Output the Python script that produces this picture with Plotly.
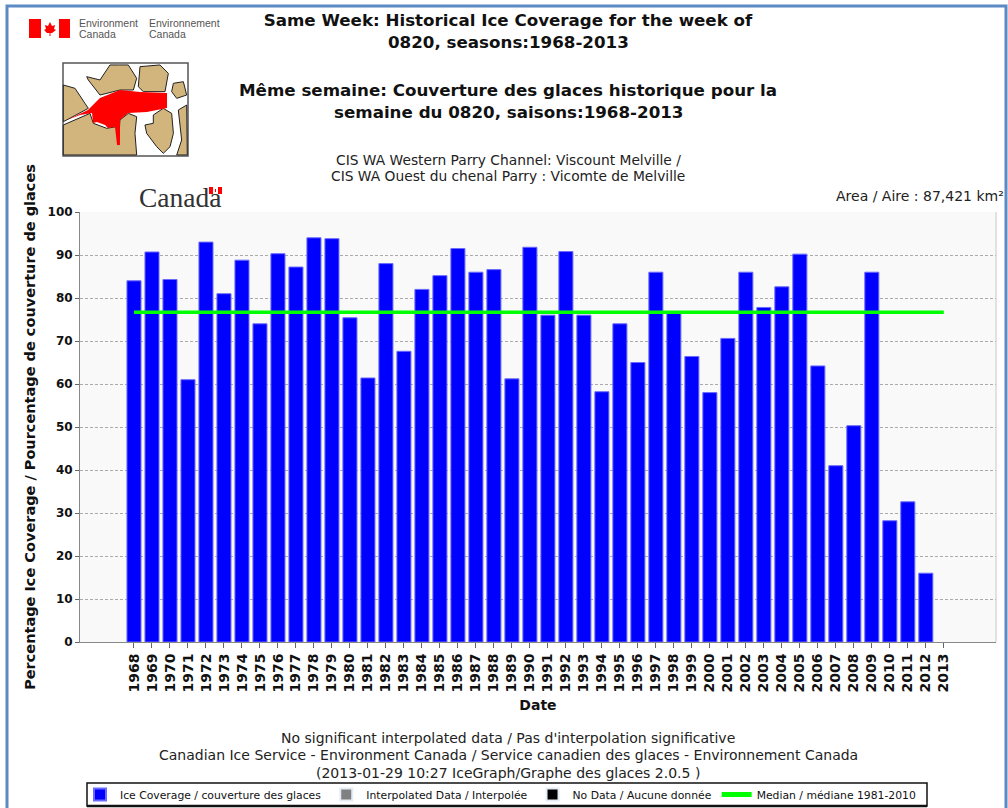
import plotly.graph_objects as go

years = list(range(1968, 2014))
coverage = [84, 90.7, 84.3, 61, 93, 81, 88.8, 74, 90.3, 87.2, 94, 93.8, 75.4, 61.4, 88,
            67.6, 82, 85.2, 91.5, 86, 86.6, 61.2, 91.8, 76, 90.8, 76, 58.2, 74, 65, 86,
            76.6, 66.4, 58, 70.6, 86, 77.8, 82.6, 90.2, 64.2, 41, 50.3, 86, 28.2, 32.6, 16, None]
median = [76.7] * len(years)
no_values = [None] * len(years)

W, H = 1008, 808
FONT = "DejaVu Sans"
LAND = "#d2b47d"


def px(x):
    return x / W


def py(y):
    return 1 - y / H


def poly(points, fill, line="rgba(0,0,0,0)", width=0):
    path = "M" + " L".join(f"{px(x):.4f},{py(y):.4f}" for x, y in points) + " Z"
    return dict(type="path", xref="paper", yref="paper", path=path, fillcolor=fill,
                line=dict(color=line, width=width), layer="above")


def land(points):
    return poly([(x / 3, y / 3) for x, y in points], LAND, "#222222", 1)


def rect(x0, y0, x1, y1, fill="rgba(0,0,0,0)", line="rgba(0,0,0,0)", width=0, layer="above"):
    return dict(type="rect", xref="paper", yref="paper", x0=px(x0), x1=px(x1), y0=py(y0), y1=py(y1),
                fillcolor=fill, line=dict(color=line, width=width), layer=layer)


def text(x, y, s, size, color="#222222", bold=False, family=FONT, anchor="center"):
    return dict(xref="paper", yref="paper", x=px(x), y=py(y), text=f"<b>{s}</b>" if bold else s,
                showarrow=False, xanchor=anchor, yanchor="middle",
                font=dict(family=family, size=size, color=color), align="center")


fig = go.Figure()
fig.add_bar(x=years, y=coverage, name="Ice Coverage / couverture des glaces", width=0.78,
            marker=dict(color="#0000ff", line=dict(color="#6a6aff", width=1)))
fig.add_bar(x=years, y=no_values, name="Interpolated Data / Interpolée", marker_color="#808080")
fig.add_bar(x=years, y=no_values, name="No Data / Aucune donnée", marker_color="#000000")
fig.add_scatter(x=years, y=median, mode="lines", name="Median / médiane 1981-2010",
                line=dict(color="#00ff00", width=3.5))

shapes = [
    # window frame
    rect(7, 6, 1006, 830, line="#5b8ac4", width=3),
    # legend box with its heavier lower edge
    rect(87, 783, 927, 806, fill="#ffffff", line="#111111", width=1.5),
    dict(type="line", xref="paper", yref="paper", x0=px(87), x1=px(927), y0=py(806), y1=py(806),
         line=dict(color="#111111", width=2.5), layer="above"),
    # plot right edge
    dict(type="line", xref="paper", yref="paper", x0=px(996), x1=px(996), y0=py(212), y1=py(642),
         line=dict(color="#c8c8c8", width=1), layer="above"),
    # Environment Canada flag
    rect(29, 19, 41, 38, fill="#ff0000"),
    rect(59, 19, 70, 38, fill="#ff0000"),
    poly([(50, 22), (52, 26), (55, 25), (54, 29), (56, 30), (52, 33), (50.5, 33), (50.5, 36),
          (49.5, 36), (49.5, 33), (47, 33), (44, 30), (46, 29), (45, 25), (48, 26)], "#ff0000"),
    # map
    rect(63, 63, 188, 156, fill="#ffffff", line="#555555", width=1.5),
    land([(190, 255), (225, 265), (255, 310), (265, 325), (200, 360), (190, 365)]),
    land([(190, 375), (270, 340), (280, 370), (320, 385), (350, 380), (355, 435), (360, 360),
          (385, 340), (410, 350), (405, 400), (410, 465), (190, 465)]),
    land([(260, 230), (300, 240), (330, 195), (355, 195), (385, 195), (410, 235), (400, 270),
          (360, 270), (300, 285), (265, 240)]),
    land([(420, 200), (480, 195), (505, 220), (495, 275), (430, 275), (415, 260)]),
    land([(520, 250), (550, 245), (560, 285), (530, 295), (515, 275)]),
    land([(460, 345), (490, 325), (515, 340), (520, 400), (510, 440), (490, 460), (470, 440),
          (440, 400), (435, 375), (460, 370)]),
    land([(535, 330), (560, 315), (562, 465), (530, 465), (545, 420)]),
    poly([(67, 120), (88, 110), (100, 98), (120, 90), (140, 92), (167, 93), (167, 108), (147, 112),
          (128, 113), (120, 120), (120, 145), (117, 145), (115, 127), (108, 128), (105, 125),
          (97, 122), (93, 123), (92, 113), (80, 115)], "#ff0000"),
    # Canada wordmark flag
    rect(209, 187, 222, 194, fill="#ff0000"),
    rect(213, 187, 218, 194, fill="#ffffff"),
    rect(215, 189, 216, 192, fill="#ff0000"),
]

annotations = [
    text(508, 42, "0820, seasons:1968-2013", 16.7, "#111111", True),
    text(508, 90, "Même semaine: Couverture des glaces historique pour la", 16.7, "#111111", True),
    text(508, 112, "semaine du 0820, saisons:1968-2013", 16.7, "#111111", True),
    text(508, 160, "CIS WA Western Parry Channel: Viscount Melville /", 13.8),
    text(508, 176, "CIS WA Ouest du chenal Parry : Vicomte de Melville", 13.8),
    text(77, 23, "Environment", 10.5, "#555555", family="Liberation Sans", anchor="left"),
    text(77, 34, "Canada", 10.5, "#555555", family="Liberation Sans", anchor="left"),
    text(147, 23, "Environnement", 10.5, "#555555", family="Liberation Sans", anchor="left"),
    text(147, 34, "Canada", 10.5, "#555555", family="Liberation Sans", anchor="left"),
    text(180, 197, "Canada", 27.5, "#333333", family="Liberation Serif"),
    text(1006, 196, "Area / Aire : 87,421 km²", 14, anchor="right"),
    text(508, 738, "No significant interpolated data / Pas d'interpolation significative", 14),
    text(508, 755, "Canadian Ice Service - Environment Canada / Service canadien des glaces - Environnement Canada", 14),
    text(508, 773, "(2013-01-29 10:27 IceGraph/Graphe des glaces 2.0.5 )", 14),
]

fig.update_layout(
    width=W, height=H, margin=dict(l=0, r=0, t=0, b=0, autoexpand=False),
    paper_bgcolor="#ffffff", plot_bgcolor="#f9f9f9", barmode="overlay",
    font=dict(family=FONT, color="#111111"),
    title=dict(text="<b>Same Week: Historical Ice Coverage for the week of</b>", x=px(508), xanchor="center",
               y=py(20), yanchor="middle", font=dict(family=FONT, size=16.7, color="#111111")),
    shapes=shapes, annotations=annotations,
    showlegend=True,
    legend=dict(orientation="h", x=px(80), y=py(794.5), xanchor="left", yanchor="middle",
                borderwidth=0, bgcolor="rgba(0,0,0,0)",
                font=dict(family=FONT, size=10.8, color="#111111"), traceorder="normal",
                itemsizing="constant", tracegroupgap=0),
    xaxis=dict(domain=[px(80), px(996)], range=[-3 + 1968, 1968 + 47.9], tickmode="array",
               tickvals=years, ticktext=[f"<b>{y}</b>" for y in years], tickangle=-90,
               tickfont=dict(family=FONT, size=14, color="#111111"), ticks="outside", ticklen=5,
               tickcolor="#666666", showgrid=False, showline=True, linecolor="#888888", zeroline=False,
               title=dict(text="<b>Date</b>", font=dict(family=FONT, size=14, color="#111111"), standoff=8)),
    yaxis=dict(domain=[py(642), py(212)], range=[0, 100], tickmode="array", tickvals=list(range(0, 101, 10)),
               ticktext=[f"<b>{v}</b>" for v in range(0, 101, 10)],
               tickfont=dict(family=FONT, size=12, color="#111111"), ticks="outside", ticklen=4,
               tickcolor="#666666", showline=True, linecolor="#888888", zeroline=False,
               showgrid=True, gridcolor="#aaaaaa", griddash="3px,2px", gridwidth=1,
               title=dict(text="<b>Percentage Ice Coverage / Pourcentage de couverture de glaces</b>",
                          font=dict(family=FONT, size=14.5, color="#111111"), standoff=8)),
)

fig.write_html("out.html", config={"displayModeBar": False},
               post_script="document.body.style.margin='0';document.body.style.overflow='hidden';")
